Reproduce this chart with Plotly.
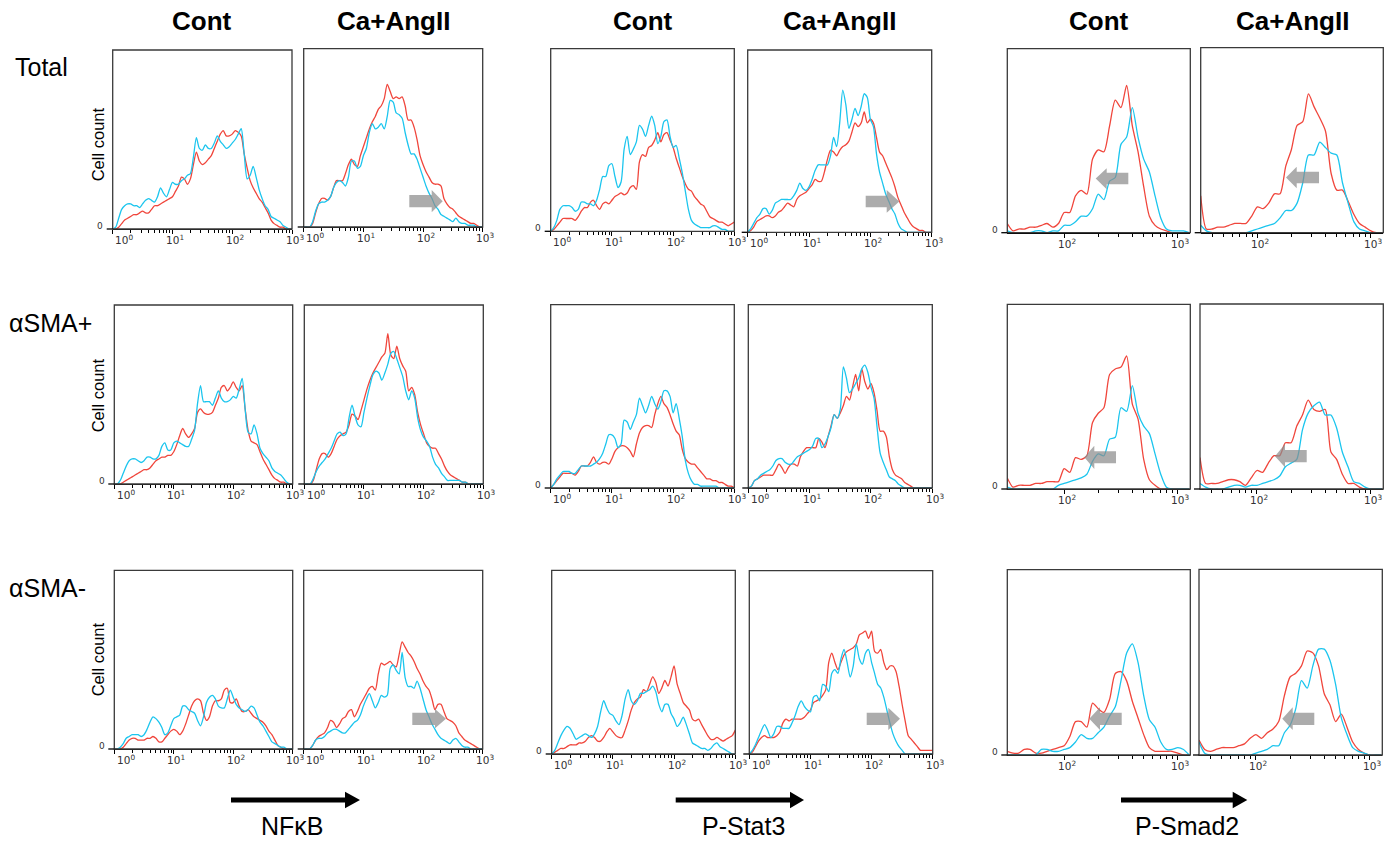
import math
import plotly.graph_objects as go

W, H = 1385, 842
RED = "#F0463C"
CYAN = "#1BC5EE"

# ---------------- data ----------------
# fluorescence intensity grid, log10 units
LOG_NF = [0.00, 0.05, 0.10, 0.15, 0.20, 0.25, 0.30, 0.35, 0.40, 0.45,
          0.50, 0.55, 0.60, 0.65, 0.70, 0.75, 0.80, 0.85, 0.90, 0.95,
          1.00, 1.05, 1.10, 1.15, 1.20, 1.25, 1.30, 1.35, 1.40, 1.45,
          1.50, 1.55, 1.60, 1.65, 1.70, 1.75, 1.80, 1.85, 1.90, 1.95,
          2.00, 2.05, 2.10, 2.15, 2.20, 2.25, 2.30, 2.35, 2.40, 2.45,
          2.50, 2.55, 2.60, 2.65, 2.70, 2.75, 2.80, 2.85, 2.90, 2.95,
          3.00]
LOG_SMAD = [1.50, 1.55, 1.60, 1.65, 1.70, 1.75, 1.80, 1.85, 1.90, 1.95,
            2.00, 2.05, 2.10, 2.15, 2.20, 2.25, 2.30, 2.35, 2.40, 2.45,
            2.50, 2.55, 2.60, 2.65, 2.70, 2.75, 2.80, 2.85, 2.90, 2.95,
            3.00, 3.05, 3.10]

DECADES_NF = [1, 10, 100, 1000]
DECADES_SMAD = [100, 1000]
MINOR_NF = [2, 3, 4, 5, 6, 7, 8, 9, 20, 30, 40, 50, 60, 70, 80, 90,
            200, 300, 400, 500, 600, 700, 800, 900]
MINOR_SMAD_CONT = [200, 300, 400, 500, 600, 700, 800, 900]
MINOR_SMAD_TREAT = [40, 50, 60, 70, 80, 90, 200, 300, 400, 500, 600, 700, 800, 900]

COLUMN_TITLES = ["Cont", "Ca+AngII"]
ROW_TITLES = ["Total", "αSMA+", "αSMA-"]
MARKERS = ["NFκB", "P-Stat3", "P-Smad2"]
Y_LABEL = "Cell count"
ZERO_LABEL = "0"

# cell count, % of panel height
NFKB_TOTAL_CONT_RED = [0,0,1,3,5,6,7,8,8,9, 10,9,9,11,13,13,14,15,16,17, 18,21,24,29,28,25,28,36,43,38,
                       36,37,39,41,45,49,53,55,52,52, 53,55,54,52,42,34,27,23,20,17, 15,12,9,5,3,2,1,1,0,0, 0]
NFKB_TOTAL_CONT_CYAN = [0,1,6,11,13,14,14,13,13,12, 14,16,17,16,15,18,23,20,18,22, 26,25,25,27,28,30,31,40,51,45,
                        44,47,45,45,48,52,49,47,45,46, 48,50,53,56,42,28,30,35,29,22, 17,13,11,7,6,5,4,2,1,0, 0]
NFKB_TOTAL_ANG_RED = [0,0,0,2,8,13,16,16,15,17, 22,26,26,26,30,35,38,35,34,40, 45,50,55,59,62,66,68,72,80,76,
                      72,73,72,73,68,60,60,56,49,40, 35,31,28,25,24,24,23,16,13,11, 10,8,6,5,4,3,2,2,1,0, 0]
NFKB_TOTAL_ANG_CYAN = [0,0,0,3,9,13,14,14,15,17, 22,25,26,25,23,28,37,37,33,34, 40,44,53,58,55,56,58,55,62,71,
                       70,64,63,61,53,46,41,41,38,33, 28,23,19,16,12,10,7,6,5,4, 3,5,3,2,2,1,1,1,0,0, 0]
NFKB_POS_CONT_RED = [0,0,0,1,2,3,4,5,6,7, 8,8,9,11,13,14,15,15,16,16, 18,22,27,31,28,26,28,31,40,42,
                     40,39,39,40,44,48,54,55,52,54, 57,54,52,55,42,30,24,23,22,18, 14,11,8,5,3,2,1,1,0,0, 0]
NFKB_POS_CONT_CYAN = [0,0,2,6,10,13,14,14,13,12, 13,15,15,14,14,16,21,23,19,19, 23,24,23,22,21,21,25,30,45,55,
                      46,46,46,44,48,52,48,46,46,47, 49,48,53,59,42,29,28,33,28,20, 17,15,13,9,7,6,5,3,1,0, 0]
NFKB_POS_ANG_RED = [0,0,0,2,8,14,17,17,15,17, 21,25,27,28,29,33,39,38,36,41, 47,53,58,62,65,68,71,73,84,72,
                    70,77,70,66,63,52,54,50,40,33, 28,23,21,20,20,17,14,10,7,5, 4,3,2,1,1,0,0,0,0,0, 0]
NFKB_POS_ANG_CYAN = [0,0,0,3,7,10,12,14,17,20, 24,28,29,27,28,37,44,38,33,32, 40,48,55,61,63,62,58,62,67,73,
                     74,70,65,60,52,47,52,48,37,30, 26,24,21,15,11,9,6,4,2,2, 2,2,2,1,1,0,0,0,0,0, 0]
NFKB_NEG_CONT_RED = [0,0,0,1,3,5,6,6,5,5, 5,6,6,7,6,4,4,6,8,10, 11,10,8,10,14,19,24,27,28,27,
                     20,16,18,24,27,27,28,33,34,26, 26,28,24,21,21,22,20,18,17,16, 15,13,10,8,5,2,1,0,0,0, 0]
NFKB_NEG_CONT_CYAN = [0,0,1,3,6,7,8,8,8,7, 8,11,15,18,17,15,12,8,9,13, 17,18,19,24,24,22,21,20,16,13,
                      18,26,29,30,28,24,23,23,28,33, 29,25,23,22,21,22,24,23,19,15, 13,10,7,4,3,2,1,1,0,0, 0]
NFKB_NEG_ANG_RED = [0,0,0,2,5,7,8,9,12,16, 15,12,14,17,18,21,22,18,21,25, 28,31,34,35,33,42,48,47,48,49,
                    47,46,53,60,57,54,52,49,45,42, 38,35,33,28,22,25,25,21,17,16, 15,13,9,7,5,4,3,2,1,0, 0]
NFKB_NEG_ANG_CYAN = [0,0,0,2,5,6,6,7,9,10, 11,11,10,9,9,11,13,15,16,19, 24,28,31,27,23,26,30,29,30,45,
                     47,44,42,54,40,35,35,34,38,34, 28,22,18,14,11,8,6,5,4,3, 5,6,4,2,1,1,0,0,0,0, 0]

STAT3_TOTAL_CONT_RED = [0,1,3,5,7,7,7,7,6,8, 11,13,13,16,17,14,12,15,16,15, 17,19,20,21,20,21,24,25,23,38,
                        42,41,46,47,50,54,49,53,54,50, 46,40,35,30,26,23,22,19,17,15, 14,11,8,7,6,5,5,4,3,4, 5]
STAT3_TOTAL_CONT_CYAN = [0,2,6,12,14,14,14,13,11,12, 16,16,15,15,14,17,23,30,30,36, 37,30,24,27,45,52,42,45,49,58,
                         56,52,58,63,58,48,52,60,61,52, 46,47,40,32,22,12,6,4,3,2, 2,2,2,3,3,2,1,1,0,0, 0]
STAT3_TOTAL_ANG_RED = [0,1,3,6,7,8,9,9,8,9, 11,12,14,16,15,14,18,20,21,22, 24,26,29,28,28,33,40,45,44,42,
                       45,47,48,50,55,60,58,60,66,60, 62,60,52,44,42,38,34,30,25,19, 15,11,8,5,3,2,1,1,0,0, 0]
STAT3_TOTAL_ANG_CYAN = [0,2,5,8,10,13,13,10,12,16, 17,18,18,18,18,20,23,27,24,23, 25,29,34,37,37,37,37,42,52,47,
                        60,78,70,57,62,68,64,69,76,74, 62,58,43,33,27,21,17,13,10,5, 2,1,0,0,0,0,0,0,0,0, 0]
STAT3_POS_CONT_RED = [0,2,4,6,8,8,8,8,7,9, 12,12,12,14,17,14,13,14,14,13, 16,20,22,23,23,22,20,17,24,30,
                      33,34,34,33,40,46,50,46,44,40, 35,31,29,21,16,14,13,13,11,9, 7,5,5,4,4,3,3,2,1,1, 0]
STAT3_POS_CONT_CYAN = [0,2,5,7,9,9,9,8,8,10, 12,12,12,12,13,14,16,19,24,29, 29,27,22,24,37,36,32,36,40,49,
                       45,41,45,50,46,43,47,53,53,50, 41,46,38,28,15,8,4,2,2,1, 1,1,1,1,1,0,0,0,0,0, 0]
STAT3_POS_ANG_RED = [0,1,4,5,6,7,7,7,7,10, 13,11,8,11,13,13,12,17,20,22, 22,22,22,27,25,22,28,34,40,38,
                     41,45,50,48,55,62,53,65,58,54, 57,52,42,31,31,28,17,10,7,6, 5,3,2,1,0,0,0,0,0,0, 0]
STAT3_POS_ANG_CYAN = [0,1,4,5,7,8,9,10,12,15, 16,16,14,13,13,15,17,18,19,20, 21,23,27,27,22,24,28,33,40,38,
                      43,66,60,52,54,57,60,65,67,63, 55,49,33,19,14,10,6,5,4,2, 1,0,0,0,0,0,0,0,0,0, 0]
STAT3_NEG_CONT_RED = [0,1,2,3,3,4,5,5,5,6, 6,7,9,10,9,7,7,9,12,14, 12,10,9,9,13,18,24,28,30,31,
                      35,34,38,42,39,33,36,40,37,42, 48,38,33,28,26,24,19,18,19,16, 13,10,8,8,9,8,7,8,9,10, 13]
STAT3_NEG_CONT_CYAN = [0,2,6,10,13,15,14,11,8,9, 10,11,10,9,11,15,23,29,25,22, 21,18,16,21,30,35,29,27,29,33,
                       33,34,35,37,34,27,23,27,27,22, 19,15,17,20,16,11,6,5,4,3, 3,2,3,5,6,4,3,2,1,0, 0]
STAT3_NEG_ANG_RED = [0,1,4,7,9,10,9,9,9,10, 12,17,19,18,19,19,19,19,20,22, 24,28,29,30,32,35,50,55,50,46,
                     50,54,56,57,58,60,65,66,67,63, 67,56,55,57,50,46,48,48,45,37, 27,18,10,8,6,4,2,2,2,2, 2]
STAT3_NEG_ANG_CYAN = [0,2,5,9,13,16,13,9,11,15, 15,14,14,14,17,21,26,29,26,24, 23,31,32,29,38,37,34,44,46,44,
                      52,57,50,42,48,60,52,49,55,57, 50,44,38,36,31,24,17,11,7,4, 2,0,0,0,0,0,0,0,0,0, 0]

SMAD2_TOTAL_CONT_RED = [5,1,2,2,3,3,4,5,3,5, 11,11,20,23,21,40,45,44,58,72, 68,80,58,44,25,9,4,2,1,0, 0,0,0]
SMAD2_TOTAL_CONT_CYAN = [1,0,0,0,0,1,1,0,1,1, 4,4,6,9,9,13,21,18,28,30, 48,52,68,52,40,33,20,8,2,1, 1,1,0]
SMAD2_TOTAL_ANG_RED = [20,2,2,3,3,4,5,5,5,9, 14,13,16,21,21,36,45,58,60,75, 68,62,55,32,23,23,17,10,5,3, 1,0,0]
SMAD2_TOTAL_ANG_CYAN = [4,1,0,0,0,0,0,0,0,1, 2,3,4,5,8,12,12,16,27,42, 42,49,46,43,42,27,16,6,2,1, 0,0,0]
SMAD2_POS_CONT_RED = [6,1,2,2,2,3,3,4,4,4, 11,9,17,16,18,36,41,44,62,65, 66,72,46,38,16,5,2,0,0,0, 0,0,0]
SMAD2_POS_CONT_CYAN = [1,0,0,0,0,0,0,0,0,2, 3,4,5,6,8,15,19,18,27,28, 44,42,56,41,34,30,19,8,1,0, 0,0,0]
SMAD2_POS_ANG_RED = [17,3,3,3,4,5,5,4,2,6, 10,9,14,18,18,25,25,34,40,48, 43,42,43,20,16,8,3,3,1,0, 0,0,0]
SMAD2_POS_ANG_CYAN = [3,1,0,0,0,1,2,2,1,2, 2,3,4,5,7,12,14,16,32,41, 45,47,40,40,33,20,12,4,3,1, 0,0,0]
SMAD2_NEG_CONT_RED = [2,1,1,3,3,1,1,2,3,4, 5,10,18,18,15,28,25,23,30,44, 45,40,29,20,11,4,2,2,2,2, 1,0,0]
SMAD2_NEG_CONT_CYAN = [0,0,0,0,0,0,3,3,2,2, 3,4,7,11,9,9,12,15,21,26, 40,55,60,50,32,19,15,7,3,3, 4,3,0]
SMAD2_NEG_ANG_RED = [8,3,2,3,4,4,4,5,6,9, 11,9,12,14,18,32,42,44,48,56, 55,48,33,27,18,22,15,7,3,1, 0,0,0]
SMAD2_NEG_ANG_CYAN = [7,1,0,0,0,0,0,0,0,0, 1,2,3,5,5,12,16,25,40,36, 48,57,57,51,38,20,11,4,2,1, 0,0,0]

# ---------------- layout of panels (pixels: left, right, top, axis) ----------------
NF = dict(grid=LOG_NF, xr=(0, 3), dec=DECADES_NF)
SM = dict(grid=LOG_SMAD, xr=(1.5, 3.11), dec=DECADES_SMAD)
panels = [
    dict(NF, red=NFKB_TOTAL_CONT_RED, cyan=NFKB_TOTAL_CONT_CYAN, box=(112.7, 292.0, 50.0, 229.0), minor=MINOR_NF, zero=True),
    dict(NF, red=NFKB_TOTAL_ANG_RED, cyan=NFKB_TOTAL_ANG_CYAN, box=(303.7, 482.7, 48.7, 227.0), minor=MINOR_NF, zero=False),
    dict(NF, red=NFKB_POS_CONT_RED, cyan=NFKB_POS_CONT_CYAN, box=(114.3, 292.7, 305.0, 484.0), minor=MINOR_NF, zero=True),
    dict(NF, red=NFKB_POS_ANG_RED, cyan=NFKB_POS_ANG_CYAN, box=(304.3, 483.3, 305.0, 484.0), minor=MINOR_NF, zero=False),
    dict(NF, red=NFKB_NEG_CONT_RED, cyan=NFKB_NEG_CONT_CYAN, box=(114.3, 292.7, 570.3, 749.0), minor=MINOR_NF, zero=True),
    dict(NF, red=NFKB_NEG_ANG_RED, cyan=NFKB_NEG_ANG_CYAN, box=(303.7, 482.7, 570.3, 749.0), minor=MINOR_NF, zero=False),
    dict(NF, red=STAT3_TOTAL_CONT_RED, cyan=STAT3_TOTAL_CONT_CYAN, box=(550.7, 734.3, 48.7, 231.3), minor=MINOR_NF, zero=True),
    dict(NF, red=STAT3_TOTAL_ANG_RED, cyan=STAT3_TOTAL_ANG_CYAN, box=(747.7, 931.7, 50.0, 232.3), minor=MINOR_NF, zero=False),
    dict(NF, red=STAT3_POS_CONT_RED, cyan=STAT3_POS_CONT_CYAN, box=(550.7, 734.3, 304.7, 488.0), minor=MINOR_NF, zero=True),
    dict(NF, red=STAT3_POS_ANG_RED, cyan=STAT3_POS_ANG_CYAN, box=(748.3, 932.3, 304.7, 488.0), minor=MINOR_NF, zero=False),
    dict(NF, red=STAT3_NEG_CONT_RED, cyan=STAT3_NEG_CONT_CYAN, box=(551.7, 735.3, 570.3, 754.0), minor=MINOR_NF, zero=True),
    dict(NF, red=STAT3_NEG_ANG_RED, cyan=STAT3_NEG_ANG_CYAN, box=(749.3, 932.7, 570.7, 754.0), minor=MINOR_NF, zero=False),
    dict(SM, red=SMAD2_TOTAL_CONT_RED, cyan=SMAD2_TOTAL_CONT_CYAN, box=(1007.3, 1190.3, 48.7, 232.7), minor=MINOR_SMAD_CONT, zero=True),
    dict(SM, red=SMAD2_TOTAL_ANG_RED, cyan=SMAD2_TOTAL_ANG_CYAN, box=(1200.7, 1383.3, 47.7, 232.7), minor=MINOR_SMAD_TREAT, zero=False),
    dict(SM, red=SMAD2_POS_CONT_RED, cyan=SMAD2_POS_CONT_CYAN, box=(1007.3, 1190.3, 304.3, 489.0), minor=MINOR_SMAD_CONT, zero=True),
    dict(SM, red=SMAD2_POS_ANG_RED, cyan=SMAD2_POS_ANG_CYAN, box=(1200.0, 1383.3, 304.0, 489.0), minor=MINOR_SMAD_TREAT, zero=False),
    dict(SM, red=SMAD2_NEG_CONT_RED, cyan=SMAD2_NEG_CONT_CYAN, box=(1007.3, 1190.3, 569.7, 755.0), minor=MINOR_SMAD_CONT, zero=True),
    dict(SM, red=SMAD2_NEG_ANG_RED, cyan=SMAD2_NEG_ANG_CYAN, box=(1199.0, 1382.3, 569.3, 755.0), minor=MINOR_SMAD_TREAT, zero=False),
]

# grey shift arrows: (direction, body x0, body x1, body y0, body y1, tip x, head y0, head y1)
SHIFT_ARROWS = [
    ("r", 409.3, 431.7, 195.0, 207.3, 442.7, 190.0, 212.3),
    ("r", 865.7, 886.7, 195.7, 207.3, 899.3, 190.0, 212.7),
    ("l", 1106.7, 1128.3, 172.7, 184.3, 1095.7, 168.3, 189.3),
    ("l", 1296.7, 1319.0, 171.7, 183.3, 1286.0, 166.7, 188.3),
    ("l", 1094.3, 1116.0, 451.3, 463.3, 1084.3, 445.7, 469.0),
    ("l", 1285.0, 1306.7, 450.0, 462.3, 1275.0, 444.0, 467.3),
    ("r", 412.3, 435.0, 712.7, 725.0, 446.0, 709.0, 728.3),
    ("r", 866.7, 888.3, 712.7, 725.0, 900.0, 707.7, 730.0),
    ("l", 1100.0, 1121.7, 712.7, 725.0, 1089.3, 707.3, 730.0),
    ("l", 1292.7, 1314.3, 712.7, 725.0, 1282.3, 707.3, 730.0),
]
# black marker arrows: (shaft x0, head base x, tip x, y center)
MARKER_ARROWS = [(231.0, 345.0, 360.0, 800.0), (675.7, 790.0, 804.0, 800.0), (1121.0, 1232.7, 1247.3, 800.0)]
MARKER_LABEL_X = [292.0, 743.0, 1187.0]
GROUP_CENTERS = [((112.7 + 292.0) / 2, (303.7 + 482.7) / 2),
                 ((550.7 + 734.3) / 2, (747.7 + 931.7) / 2),
                 ((1007.3 + 1190.3) / 2, (1200.7 + 1383.3) / 2)]
ROW_LABEL_Y = [67.0, 322.5, 587.5]
CELL_COUNT_Y = [144.0, 395.0, 659.0]


def px(x):
    return x / W


def py(y):
    return 1 - y / H


fig = go.Figure()
shapes = []
annotations = []
layout_axes = {}

for i, p in enumerate(panels):
    n = i + 1
    xs = "x" if n == 1 else f"x{n}"
    ys = "y" if n == 1 else f"y{n}"
    xname = "xaxis" if n == 1 else f"xaxis{n}"
    yname = "yaxis" if n == 1 else f"yaxis{n}"
    l, r, t, b = p["box"]
    xvals = [10 ** v for v in p["grid"]]
    for vals, col in ((p["red"], RED), (p["cyan"], CYAN)):
        fig.add_trace(go.Scatter(x=xvals, y=vals, mode="lines", xaxis=xs, yaxis=ys,
                                 line=dict(color=col, width=1.3, shape="spline", smoothing=0.7),
                                 hoverinfo="skip", showlegend=False))
    layout_axes[xname] = dict(
        type="log", range=list(p["xr"]), domain=[px(l), px(r)], anchor=ys,
        showline=True, linecolor="black", linewidth=1.3, ticks="outside", ticklen=4,
        tickwidth=1, tickcolor="black", tickmode="array", tickvals=p["dec"],
        showticklabels=False, showgrid=False, zeroline=False, fixedrange=True,
        minor=dict(tickmode="array", tickvals=p["minor"], ticks="outside", ticklen=3,
                   tickwidth=1, tickcolor="black", showgrid=False))
    layout_axes[yname] = dict(range=[0, 100], domain=[py(b), py(t)], anchor=xs,
                              showline=False, showticklabels=False, showgrid=False,
                              zeroline=False, ticks="", fixedrange=True)
    # frame
    shapes.append(dict(type="rect", xref=f"{xs} domain", yref=f"{ys} domain", x0=0, x1=1, y0=0, y1=1,
                       line=dict(color="#3a3a3a", width=1.3), layer="above"))
    # small axis extension to the left
    shapes.append(dict(type="line", xref="paper", yref="paper", x0=px(l - 6), x1=px(l), y0=py(b), y1=py(b),
                       line=dict(color="black", width=1.3)))
    # decade tick labels
    for dv in p["dec"]:
        lg = round(math.log10(dv))
        shift = 11.5 if (p["xr"][0] == 0 and lg == 0) else 2.5
        annotations.append(dict(text=f"10<sup>{lg}</sup>", xref=xs, yref="paper", x=lg, y=py(b + 2.0),
                                xanchor="center", yanchor="top", xshift=shift, showarrow=False,
                                font=dict(family="DejaVu Sans", size=10.5, color="#333")))
    if p["zero"]:
        annotations.append(dict(text=ZERO_LABEL, xref="paper", yref="paper", x=px(l - 12.5), y=py(b - 3),
                                xanchor="center", yanchor="middle", showarrow=False,
                                font=dict(family="DejaVu Sans", size=9, color="#333")))

# grey arrows
for d, x0, x1, y0, y1, tip, hy0, hy1 in SHIFT_ARROWS:
    ty = (y0 + y1) / 2
    if d == "r":
        pts = [(x0, y0), (x1, y0), (x1, hy0), (tip, ty), (x1, hy1), (x1, y1), (x0, y1)]
    else:
        pts = [(x1, y0), (x0, y0), (x0, hy0), (tip, ty), (x0, hy1), (x0, y1), (x1, y1)]
    path = "M " + " L ".join(f"{px(a):.5f},{py(c):.5f}" for a, c in pts) + " Z"
    shapes.append(dict(type="path", xref="paper", yref="paper", path=path,
                       fillcolor="rgba(140,140,140,0.72)", line=dict(width=0), layer="above"))

# black marker arrows + labels
for (x0, xb, tip, yc), lx, name in zip(MARKER_ARROWS, MARKER_LABEL_X, MARKERS):
    pts = [(x0, yc - 2.4), (xb, yc - 2.4), (xb, yc - 8.3), (tip, yc), (xb, yc + 8.3), (xb, yc + 2.4), (x0, yc + 2.4)]
    path = "M " + " L ".join(f"{px(a):.5f},{py(c):.5f}" for a, c in pts) + " Z"
    shapes.append(dict(type="path", xref="paper", yref="paper", path=path, fillcolor="black",
                       line=dict(width=0)))
    annotations.append(dict(text=name, xref="paper", yref="paper", x=px(lx), y=py(826), xanchor="center",
                            yanchor="middle", showarrow=False,
                            font=dict(family="Liberation Sans, Arial", size=25, color="black")))

# column titles
for c1, c2 in GROUP_CENTERS:
    for cx, txt in ((c1, COLUMN_TITLES[0]), (c2, COLUMN_TITLES[1])):
        annotations.append(dict(text=f"<b>{txt}</b>", xref="paper", yref="paper", x=px(cx), y=py(21),
                                xanchor="center", yanchor="middle", showarrow=False,
                                font=dict(family="Liberation Sans, Arial", size=26, color="black")))

# row titles and y labels
for txt, ry, cy in zip(ROW_TITLES, ROW_LABEL_Y, CELL_COUNT_Y):
    annotations.append(dict(text=txt, xref="paper", yref="paper", x=px(7 if txt != "Total" else 13), y=py(ry),
                            xanchor="left", yanchor="middle", showarrow=False,
                            font=dict(family="Liberation Sans, Arial", size=25, color="black")))
    annotations.append(dict(text=Y_LABEL, xref="paper", yref="paper", x=px(98.3), y=py(cy), textangle=-90,
                            xanchor="center", yanchor="middle", showarrow=False,
                            font=dict(family="Liberation Sans, Arial", size=16.5, color="black")))

fig.update_layout(width=W, height=H, margin=dict(l=0, r=0, t=0, b=0), paper_bgcolor="white",
                  plot_bgcolor="white", shapes=shapes, annotations=annotations, showlegend=False,
                  **layout_axes)
fig.write_html("out.html")
